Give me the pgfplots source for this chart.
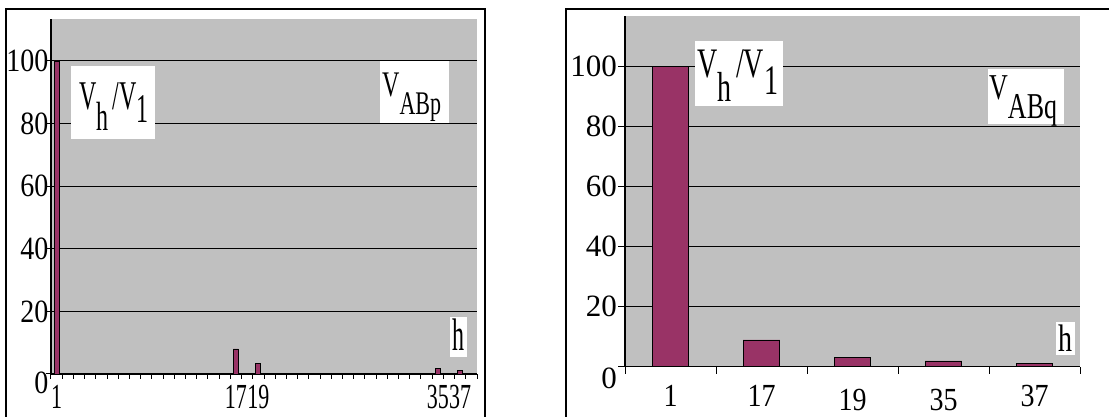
\documentclass[border=0pt]{standalone}
\usepackage{pgfplots}
\pgfplotsset{compat=1.18}
\usepackage{fontspec}
\setmainfont{Liberation Serif}
\definecolor{plum}{HTML}{993366}
\definecolor{bg}{HTML}{C0C0C0}
\newcommand\sm[1]{\raisebox{0pt}[0pt][0pt]{#1}}
\newcommand\smd[1]{\raisebox{-3pt}[0pt][0pt]{#1}}
\begin{document}
\begin{tikzpicture}
% ---------- left panel ----------
\begin{axis}[
  at={(51pt,43pt)}, anchor=south west,
  width=426pt, height=355pt, scale only axis,
  xmin=0.5, xmax=38.5, ymin=0, ymax=113.4,
  ybar, bar width=5pt,
  axis x line*=bottom, axis y line*=left,
  axis line style={line width=1.2pt},
  axis background/.style={fill=bg},
  /pgf/number format/assume math mode=true,
  ytick={0,20,40,60,80,100},
  yticklabels={\raisebox{-17pt}[0pt][0pt]{0}\hspace{7pt},20,40,60,80,100},
  ymajorgrids, grid style={black, line width=1pt},
  xtick={0.5,1.5,...,38.5}, xticklabels={},
  tick align=outside, major tick length=5pt,
  tick style={black, line width=1pt},
  yticklabel style={font=\fontsize{28}{28}\selectfont, yscale=1.16, inner sep=0.5pt, xshift=3pt},
  extra x ticks={1,17,19,35,37},
  extra x tick labels={\sm{1},\sm{17},\sm{19},\sm{35},\sm{37}},
  extra x tick style={major tick length=0pt, grid=none,
    xticklabel style={font=\fontsize{22}{22}\selectfont, anchor=center, yshift=-35pt, yscale=1.6}},
]
\addplot[fill=plum, draw=black, line width=0.8pt] coordinates {(1,100) (17,8) (19,3.4) (35,1.7) (37,1.2)};
\end{axis}
% ---------- right panel ----------
\begin{axis}[
  at={(625pt,50.3pt)}, anchor=south west,
  width=455pt, height=351pt, scale only axis,
  xmin=0.5, xmax=5.5, ymin=0, ymax=117,
  ybar, bar width=36.7pt,
  axis x line*=bottom, axis y line*=left,
  axis line style={line width=1.2pt},
  axis background/.style={fill=bg},
  /pgf/number format/assume math mode=true,
  ytick={0,20,40,60,80,100},
  yticklabels={\raisebox{-21.5pt}[0pt][0pt]{0},20,40,60,80,100},
  ymajorgrids, grid style={black, line width=1pt},
  xtick={0.5,1.5,...,5.5}, xticklabels={},
  tick align=outside, major tick length=7pt,
  tick style={black, line width=1pt},
  yticklabel style={font=\fontsize{31}{31}\selectfont, inner sep=1pt},
  extra x ticks={1,2,3,4,5},
  extra x tick labels={\sm{1},\sm{17},\smd{19},\smd{35},\sm{37}},
  extra x tick style={major tick length=0pt, grid=none,
    xticklabel style={font=\fontsize{28}{28}\selectfont, anchor=center, yshift=-40pt, yscale=1.15}},
]
\addplot[fill=plum, draw=black, line width=0.8pt] coordinates {(1,100) (2,8.9) (3,3.0) (4,1.9) (5,1.2)};
\end{axis}
% ---------- frames ----------
\draw[line width=1.3pt] (6pt,0pt) -- (6pt,408pt) -- (485pt,408pt) -- (485pt,0pt);
\draw[line width=1.3pt] (566pt,0pt) -- (566pt,408pt) -- (1109pt,408pt);
% ---------- annotation boxes, left ----------
\fill[white] (71pt,278pt) rectangle (155pt,351pt);
\node[anchor=base west, inner sep=0, yscale=1.7, font=\fontsize{24}{24}\selectfont] at (79pt,307pt)
  {V\raisebox{-12pt}{h}\,/V\raisebox{-7.5pt}{1}};
\fill[white] (380pt,294pt) rectangle (449pt,356pt);
\node[anchor=base west, inner sep=0, yscale=1.5, font=\fontsize{24}{24}\selectfont] at (382pt,320pt)
  {V\raisebox{-12pt}{\fontsize{22}{22}\selectfont ABp}};
\fill[white] (450pt,60pt) rectangle (467pt,100pt);
\node[anchor=base, inner sep=0, yscale=1.9, font=\fontsize{24}{24}\selectfont] at (458.5pt,66pt) {h};
% ---------- annotation boxes, right ----------
\fill[white] (695pt,311pt) rectangle (783pt,376pt);
\node[anchor=base west, inner sep=0, yscale=1.5, font=\fontsize{28}{28}\selectfont] at (697pt,339pt)
  {V\raisebox{-16pt}{h}\,/V\raisebox{-11pt}{1}};
\fill[white] (988pt,293pt) rectangle (1064pt,348pt);
\node[anchor=base west, inner sep=0, yscale=1.4, font=\fontsize{26}{26}\selectfont] at (989pt,317pt)
  {V\raisebox{-13pt}{ABq}};
\fill[white] (1056pt,62pt) rectangle (1075pt,95pt);
\node[anchor=base, inner sep=0, yscale=1.37, font=\fontsize{28}{28}\selectfont] at (1065.5pt,65pt) {h};
\pgfresetboundingbox
\useasboundingbox (0pt,0pt) rectangle (1109pt,417pt);
\end{tikzpicture}
\end{document}
